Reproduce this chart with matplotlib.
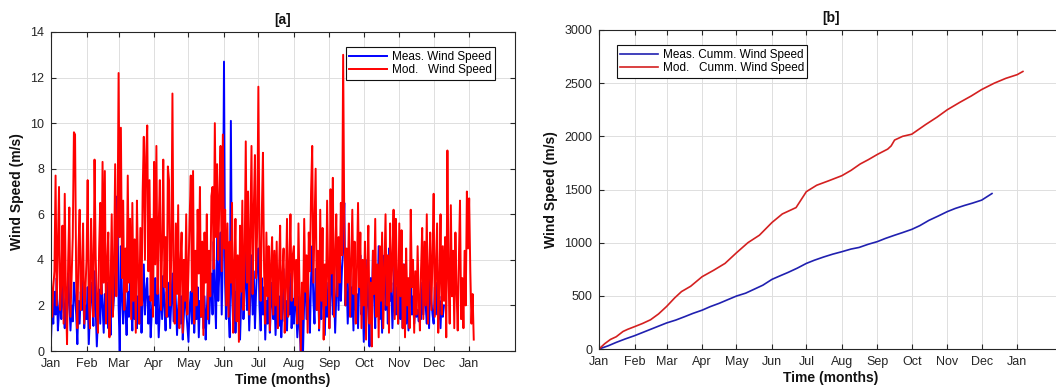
import numpy as np
import matplotlib
matplotlib.use("Agg")
import matplotlib.pyplot as plt

plt.rcParams['font.family'] = ['Liberation Sans', 'DejaVu Sans']

# ---------------- data ----------------
month_labels = ['Jan', 'Feb', 'Mar', 'Apr', 'May', 'Jun', 'Jul',
                'Aug', 'Sep', 'Oct', 'Nov', 'Dec', 'Jan']
month_start_day = [0, 31, 59, 90, 120, 151, 181, 212, 243, 273, 304, 334, 365]

# Modelled daily wind speed (m/s), panel [a]
mod_jan = [3.2, 1.5, 2.8, 3.5, 7.7, 2.0, 4.5, 7.2, 1.8, 3.0, 5.5, 1.2, 6.9, 2.5, 0.3, 4.0,
           6.3, 1.5, 3.2, 5.0, 9.6, 9.5, 3.0, 1.0, 4.5, 6.2, 1.8, 3.4, 5.6, 1.2, 2.6]
mod_feb = [4.0, 7.5, 2.2, 1.0, 5.8, 3.5, 1.5, 8.4, 4.2, 2.0, 0.8, 4.5, 6.5, 2.5, 8.3, 3.0,
           7.9, 1.2, 3.8, 5.2, 0.6, 2.8, 6.0, 1.5, 3.6, 8.2, 2.4, 4.8]
mod_mar = [12.2, 5.0, 9.8, 3.2, 6.6, 1.8, 4.5, 2.6, 7.7, 3.0, 5.8, 1.4, 6.5, 2.2, 4.9, 0.8,
           6.6, 3.5, 1.2, 5.4, 2.0, 7.0, 9.4, 4.0, 8.5, 9.9, 3.5, 7.5, 2.2, 5.8, 1.5]
mod_apr = [8.3, 3.8, 9.0, 2.5, 5.5, 7.5, 1.8, 4.6, 8.4, 2.8, 5.0, 1.5, 8.1, 7.5, 2.0, 4.2,
           11.3, 3.2, 1.2, 5.6, 2.5, 6.4, 1.0, 3.8, 5.2, 0.8, 4.0, 2.2, 6.0, 1.6]
mod_may = [3.5, 5.8, 7.7, 2.6, 7.9, 1.2, 4.4, 2.0, 6.2, 3.4, 7.2, 1.5, 4.8, 0.7, 5.2, 3.0,
           6.0, 1.4, 4.4, 2.4, 6.8, 7.2, 3.6, 10.0, 5.0, 8.2, 4.0, 6.8, 9.0, 3.5, 9.5]
mod_jun = [4.5, 6.2, 2.0, 5.6, 1.5, 4.8, 3.0, 6.5, 0.8, 3.6, 5.8, 1.3, 4.2, 0.4, 5.5, 2.6,
           6.6, 1.8, 4.0, 9.2, 3.0, 7.0, 1.6, 5.2, 9.0, 2.5, 6.2, 8.6, 3.2, 5.4]
mod_jul = [11.6, 4.5, 2.2, 6.0, 8.7, 3.5, 1.2, 5.2, 2.4, 4.6, 0.9, 3.8, 5.0, 1.6, 4.4, 2.0,
           4.8, 1.0, 3.5, 5.5, 1.4, 3.2, 4.5, 0.8, 2.8, 5.8, 1.5, 3.6, 6.0, 2.2, 4.2]
mod_aug = [4.6, 2.0, 4.0, 1.2, 5.6, 2.5, 0.0, 3.0, 1.4, 5.8, 2.6, 4.2, 0.8, 5.2, 3.5, 7.0,
           9.0, 3.0, 5.5, 8.0, 1.8, 4.4, 1.0, 6.2, 2.2, 5.4, 0.5, 3.8, 2.0, 6.6, 3.2]
mod_sep = [1.0, 7.1, 3.4, 7.6, 1.5, 4.0, 6.0, 2.4, 5.0, 3.0, 6.5, 4.2, 13.0, 5.5, 2.0, 4.5,
           3.0, 5.6, 1.5, 3.8, 6.2, 2.5, 4.8, 1.2, 3.5, 6.5, 2.8, 5.2, 1.0, 4.0]
mod_oct = [2.0, 4.8, 0.5, 3.6, 5.5, 1.2, 3.0, 0.2, 4.4, 2.5, 5.8, 1.5, 3.8, 0.6, 4.6, 2.2,
           5.2, 1.0, 3.4, 6.0, 2.0, 4.2, 0.8, 5.6, 2.6, 4.0, 6.2, 1.4, 5.8, 3.0, 1.2]
mod_nov = [5.6, 2.4, 5.3, 1.0, 3.8, 0.6, 4.5, 2.0, 3.2, 1.0, 6.2, 2.8, 4.0, 0.8, 3.5, 1.6,
           4.6, 2.2, 0.9, 3.6, 5.4, 1.4, 4.8, 2.0, 6.0, 1.2, 3.4, 5.2, 1.8, 4.2]
mod_dec = [6.9, 1.5, 3.6, 5.6, 0.8, 3.0, 6.0, 1.6, 4.6, 2.2, 5.0, 0.6, 8.8, 3.2, 1.2, 6.4,
           2.4, 4.4, 1.0, 5.2, 2.6, 0.9, 4.0, 6.6, 1.4, 3.2, 1.0, 4.4, 2.0, 7.0, 4.5]
mod_jan_next = [6.7, 3.5, 1.2, 2.5, 0.5]

# Measured daily wind speed (m/s), panel [a]
meas_jan = [0.5, 1.8, 1.2, 2.6, 1.6, 3.2, 0.9, 1.7, 2.4, 1.4, 3.6, 1.9, 1.0, 2.8, 1.5, 3.4,
            2.2, 0.9, 2.0, 1.3, 3.0, 2.4, 1.6, 0.3, 2.2, 1.2, 2.6, 1.8, 3.1, 1.0, 2.0]
meas_feb = [1.4, 2.8, 0.3, 1.6, 3.0, 2.2, 1.1, 3.5, 1.8, 0.2, 1.5, 2.7, 1.2, 3.2, 2.0, 0.8,
            2.5, 1.4, 3.0, 1.0, 2.2, 0.7, 2.9, 1.6, 2.4, 3.4, 4.2, 6.8]
meas_mar = [2.0, 0.0, 4.6, 2.4, 1.2, 3.2, 1.8, 0.7, 2.6, 1.5, 3.4, 2.0, 0.9, 2.8, 1.4, 3.6,
            1.0, 2.4, 1.2, 2.9, 0.8, 2.2, 3.8, 1.6, 2.6, 3.2, 1.2, 2.4, 0.6, 1.8, 2.5]
meas_apr = [2.0, 3.2, 1.2, 2.5, 0.6, 1.8, 2.9, 1.4, 3.3, 2.0, 0.9, 2.6, 1.5, 3.0, 1.0, 2.2,
            3.4, 1.3, 3.6, 2.1, 0.7, 1.9, 2.8, 1.2, 2.4, 0.5, 1.6, 3.0, 1.8, 1.1]
meas_may = [0.4, 1.9, 2.6, 1.2, 3.1, 0.8, 2.0, 1.4, 2.8, 0.6, 2.2, 1.5, 3.0, 1.0, 2.4, 0.5,
            1.8, 2.9, 1.2, 2.5, 3.4, 1.6, 4.8, 2.6, 1.0, 5.0, 2.2, 3.6, 5.2, 1.6, 4.2]
meas_jun = [12.7, 3.0, 1.4, 4.4, 2.0, 0.6, 10.1, 2.5, 1.2, 4.0, 0.8, 2.6, 1.5, 3.2, 0.5, 2.2,
            4.5, 1.4, 2.8, 4.6, 1.8, 3.0, 0.9, 2.4, 4.2, 1.6, 3.5, 1.0, 2.6, 3.8]
meas_jul = [4.5, 2.0, 0.9, 3.2, 1.6, 2.8, 0.5, 2.2, 1.2, 3.4, 0.8, 2.0, 3.0, 1.4, 2.5, 0.7,
            1.9, 3.2, 1.1, 2.4, 0.6, 1.8, 3.6, 1.3, 2.2, 0.9, 2.8, 1.6, 3.4, 1.0, 2.3]
meas_aug = [1.2, 3.0, 1.8, 0.6, 2.4, 1.0, 0.0, 1.5, 0.0, 2.2, 3.8, 1.4, 4.0, 2.0, 0.8, 3.2,
            4.6, 2.2, 1.2, 3.6, 1.8, 4.2, 0.9, 2.6, 1.4, 3.4, 2.0, 0.7, 2.8, 1.5, 3.0]
meas_sep = [1.0, 2.6, 4.0, 1.6, 3.0, 0.8, 2.4, 4.2, 1.8, 4.7, 2.2, 3.6, 4.5, 6.5, 2.0, 3.2,
            1.2, 2.6, 4.0, 1.5, 2.8, 0.9, 3.4, 1.8, 2.5, 1.0, 3.0, 4.2, 1.6, 2.4]
meas_oct = [0.4, 2.6, 1.2, 4.0, 2.0, 0.2, 3.2, 1.5, 4.4, 2.4, 1.0, 3.6, 2.0, 4.6, 1.4, 3.0,
            0.8, 2.6, 4.2, 1.8, 3.4, 1.2, 4.5, 2.2, 3.0, 1.0, 2.4, 4.4, 1.6, 2.8, 1.2]
meas_nov = [3.2, 1.4, 2.6, 1.0, 3.8, 2.0, 1.2, 2.8, 0.9, 2.2, 3.4, 1.6, 2.4, 1.2, 2.0, 1.5,
            1.8, 1.3, 2.1, 1.4, 3.0, 1.6, 3.6, 2.0, 1.2, 2.6, 1.0, 3.2, 2.2, 1.6]
meas_dec = [1.2, 2.8, 1.6, 3.0, 1.4, 2.2, 1.0, 2.4, 1.5, 2.0]

# Cumulative wind speed (m/s), panel [b]: (day of year, value)
cum_meas_day = [0, 8, 15, 23, 31, 38, 45, 52, 59, 67, 75, 82, 90, 97, 105, 112, 120, 128,
                135, 143, 151, 158, 165, 173, 181, 188, 196, 204, 212, 220, 227, 235, 243,
                250, 258, 265, 273, 280, 288, 296, 304, 311, 319, 326, 334, 343]
cum_meas_val = [0, 30, 62, 95, 125, 155, 185, 215, 245, 272, 305, 335, 365, 398, 430, 462,
                498, 525, 560, 600, 655, 688, 720, 760, 805, 835, 865, 892, 915, 940, 955,
                985, 1010, 1040, 1070, 1095, 1125, 1160, 1210, 1250, 1292, 1322, 1350,
                1372, 1400, 1462]
cum_mod_day = [0, 5, 10, 15, 21, 25, 31, 38, 45, 52, 59, 66, 72, 80, 90, 100, 110, 120,
               130, 140, 151, 160, 172, 181, 190, 200, 212, 220, 228, 235, 243, 252, 255,
               258, 265, 273, 285, 295, 304, 315, 325, 334, 345, 355, 365, 370]
cum_mod_val = [0, 50, 90, 115, 165, 185, 210, 240, 275, 330, 400, 480, 540, 590, 680,
               740, 805, 905, 1000, 1070, 1190, 1270, 1330, 1480, 1540, 1580, 1630, 1680,
               1740, 1780, 1830, 1880, 1910, 1965, 2000, 2020, 2110, 2180, 2250, 2320,
               2380, 2440, 2500, 2545, 2580, 2610]

mod_speed = (mod_jan + mod_feb + mod_mar + mod_apr + mod_may + mod_jun + mod_jul +
             mod_aug + mod_sep + mod_oct + mod_nov + mod_dec + mod_jan_next)
meas_speed = (meas_jan + meas_feb + meas_mar + meas_apr + meas_may + meas_jun + meas_jul +
              meas_aug + meas_sep + meas_oct + meas_nov + meas_dec)

# ---------------- figure ----------------
W, H = 1056, 391
fig = plt.figure(figsize=(W / 100, H / 100), dpi=100)

axw = 464 / W
ax1 = fig.add_axes([51 / W, (H - 351) / H, axw, 319 / H])
ax2 = fig.add_axes([599 / W, (H - 349) / H, axw, 319 / H])

BLUE = '#0000ff'
RED = '#ff0000'
dark = '#262626'

ax1.plot(np.arange(len(meas_speed)), meas_speed, color=BLUE, lw=1.4,
         label='Meas. Wind Speed')
ax1.plot(np.arange(len(mod_speed)), mod_speed, color=RED, lw=1.4,
         label='Mod.   Wind Speed')
ax1.set_ylim(0, 14)
ax1.set_yticks(range(0, 15, 2))

ax2.plot(cum_meas_day, cum_meas_val, color='#2020b0', lw=1.2,
         label='Meas. Cumm. Wind Speed')
ax2.plot(cum_mod_day, cum_mod_val, color='#d42020', lw=1.2,
         label='Mod.   Cumm. Wind Speed')
ax2.set_ylim(0, 3000)
ax2.set_yticks(range(0, 3001, 500))

for ax, title, loc in [(ax1, '[a]', 'upper right'), (ax2, '[b]', 'upper left')]:
    ax.set_xlim(0, 405)
    ax.set_xticks(month_start_day)
    ax.set_xticklabels(month_labels)
    ax.grid(True, color='#dedede', lw=0.7)
    ax.set_axisbelow(True)
    ax.tick_params(direction='in', top=True, right=True, length=3.5, width=0.8,
                   labelsize=9, colors=dark, pad=5)
    for s in ax.spines.values():
        s.set_color(dark)
        s.set_linewidth(0.8)
    ax.set_title(title, fontsize=10, fontweight='bold', pad=6, color='#111111')
    ax.set_xlabel('Time (months)', fontsize=10, fontweight='bold', labelpad=2,
                  color='#111111')
    ax.set_ylabel('Wind Speed (m/s)', fontsize=10, fontweight='bold', labelpad=4,
                  color='#111111')
    leg = ax.legend(loc=loc, fontsize=8.5, fancybox=False, framealpha=1,
                    edgecolor='#111111', handlelength=3.2, borderpad=0.3,
                    labelspacing=0.1, handletextpad=0.4,
                    bbox_to_anchor=(0.97, 0.97) if loc == 'upper right' else (0.025, 0.97))
    leg.get_frame().set_linewidth(0.8)

fig.savefig('out.png', dpi=100)
